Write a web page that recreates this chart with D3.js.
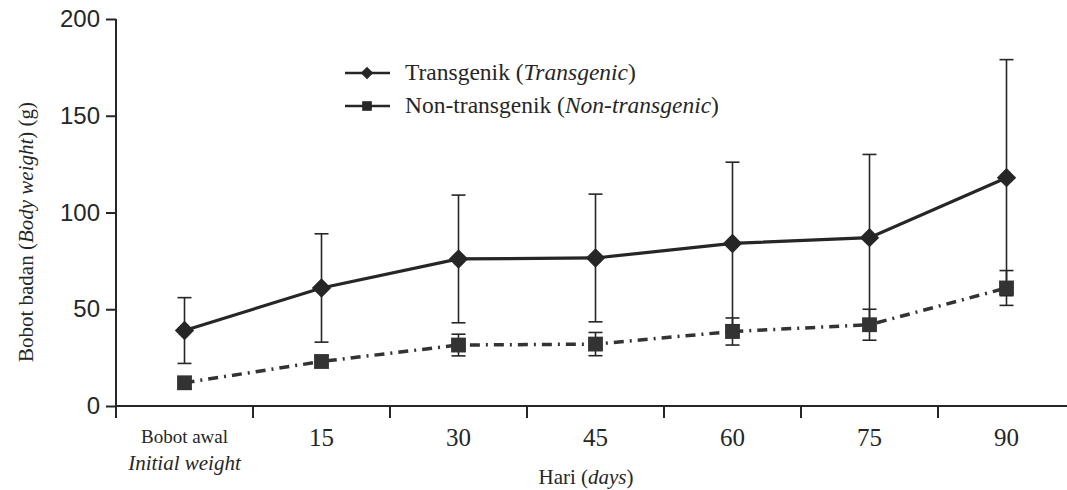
<!DOCTYPE html>
<html>
<head>
<meta charset="utf-8">
<script src="https://cdn.jsdelivr.net/npm/d3@7"></script>
<style>
  body { margin: 0; background: #fff; }
  svg { display: block; font-family: "Liberation Serif", serif; }
</style>
</head>
<body>
<svg id="chart" width="1067" height="490"></svg>
<script>
// data
const categories = ['awal', '15', '30', '45', '60', '75', '90'];
const tickLabels = ['15', '30', '45', '60', '75', '90'];
const transMean = [39, 61, 76, 76.5, 84, 87, 118];
const transErr = [17, 28, 33, 33, 42, 43, 61];
const nonMean = [12, 23, 31.5, 32, 38.5, 42, 61];
const nonErr = [3, 3, 5.6, 6, 7, 8, 9];
const yTicks = [0, 50, 100, 150, 200];

const svg = d3.select('#chart');
const ink = '#262626';

const x = d3.scaleBand().domain(categories).range([116, 1075]).padding(0);
const y = d3.scaleLinear().domain([0, 200]).range([406, 19]);
const cx = (c) => x(c) + x.bandwidth() / 2;

// y axis
const yAxis = svg.append('g')
  .attr('transform', 'translate(116,0)')
  .call(d3.axisLeft(y).tickValues(yTicks).tickSize(10).tickPadding(6));
yAxis.select('.domain').remove();
yAxis.selectAll('line').attr('stroke', ink).attr('stroke-width', 2);
yAxis.selectAll('text').attr('font-size', 24).attr('fill', ink);
svg.append('line')
  .attr('x1', 116).attr('x2', 116)
  .attr('y1', y(200)).attr('y2', y(0) + 12)
  .attr('stroke', ink).attr('stroke-width', 2);

// x axis
svg.append('line')
  .attr('x1', 116).attr('x2', 1067)
  .attr('y1', y(0)).attr('y2', y(0))
  .attr('stroke', ink).attr('stroke-width', 2);
svg.append('g').selectAll('line')
  .data(categories.slice(1))
  .enter().append('line')
  .attr('x1', (d) => x(d)).attr('x2', (d) => x(d))
  .attr('y1', y(0)).attr('y2', y(0) + 12)
  .attr('stroke', ink).attr('stroke-width', 2);
svg.append('g').selectAll('text')
  .data(tickLabels)
  .enter().append('text')
  .attr('x', (d) => cx(d)).attr('y', 446)
  .attr('text-anchor', 'middle')
  .attr('font-size', 25).attr('fill', ink)
  .text((d) => d);
svg.append('text')
  .attr('x', cx('awal')).attr('y', 443)
  .attr('text-anchor', 'middle').attr('font-size', 19).attr('fill', ink)
  .text('Bobot awal');
svg.append('text')
  .attr('x', cx('awal')).attr('y', 470)
  .attr('text-anchor', 'middle').attr('font-size', 21).attr('fill', ink)
  .attr('font-style', 'italic')
  .text('Initial weight');

// axis titles
const xt = svg.append('text')
  .attr('x', 586).attr('y', 484)
  .attr('text-anchor', 'middle').attr('font-size', 21).attr('fill', ink);
xt.append('tspan').text('Hari (');
xt.append('tspan').attr('font-style', 'italic').text('days');
xt.append('tspan').text(')');

const yt = svg.append('text')
  .attr('transform', 'translate(33,232) rotate(-90)')
  .attr('text-anchor', 'middle').attr('font-size', 21).attr('fill', ink);
yt.append('tspan').text('Bobot badan (');
yt.append('tspan').attr('font-style', 'italic').text('Body weight');
yt.append('tspan').text(') (g)');

// error bars
function errorBars(means, errs, cap) {
  const g = svg.append('g').attr('stroke', ink).attr('stroke-width', 1.6);
  categories.forEach((c, i) => {
    const top = y(means[i] + errs[i]);
    const bot = y(means[i] - errs[i]);
    g.append('line').attr('x1', cx(c)).attr('x2', cx(c)).attr('y1', top).attr('y2', bot);
    g.append('line').attr('x1', cx(c) - cap).attr('x2', cx(c) + cap).attr('y1', top).attr('y2', top);
    g.append('line').attr('x1', cx(c) - cap).attr('x2', cx(c) + cap).attr('y1', bot).attr('y2', bot);
  });
}
errorBars(transMean, transErr, 7);
errorBars(nonMean, nonErr, 7);

const line = (means) => d3.line()
  .x((d, i) => cx(categories[i]))
  .y((d) => y(d))(means);

svg.append('path')
  .attr('d', line(nonMean))
  .attr('fill', 'none').attr('stroke', '#333')
  .attr('stroke-width', 3.5)
  .attr('stroke-dasharray', '10,6,2,6');
svg.append('path')
  .attr('d', line(transMean))
  .attr('fill', 'none').attr('stroke', ink)
  .attr('stroke-width', 3.2);

const diamond = d3.symbol().type(d3.symbolDiamond2).size(240);
const square = d3.symbol().type(d3.symbolSquare).size(220);

svg.append('g').selectAll('path')
  .data(nonMean).enter().append('path')
  .attr('d', square)
  .attr('transform', (d, i) => `translate(${cx(categories[i])},${y(d)})`)
  .attr('fill', '#333');
svg.append('g').selectAll('path')
  .data(transMean).enter().append('path')
  .attr('d', diamond)
  .attr('transform', (d, i) => `translate(${cx(categories[i])},${y(d)})`)
  .attr('fill', ink);

// legend
const legend = [
  { plain: 'Transgenik (', it: 'Transgenic', sym: diamond },
  { plain: 'Non-transgenik (', it: 'Non-transgenic', sym: square }
];
legend.forEach((l, i) => {
  const ly = 73 + i * 33;
  svg.append('line')
    .attr('x1', 345).attr('x2', 390).attr('y1', ly).attr('y2', ly)
    .attr('stroke', ink).attr('stroke-width', 2.5);
  svg.append('path')
    .attr('d', l.sym)
    .attr('transform', `translate(367,${ly}) scale(0.65)`)
    .attr('fill', ink);
  const t = svg.append('text')
    .attr('x', 405).attr('y', ly + 7)
    .attr('font-size', 23.5).attr('fill', ink);
  t.append('tspan').text(l.plain);
  t.append('tspan').attr('font-style', 'italic').text(l.it);
  t.append('tspan').text(')');
});
</script>
</body>
</html>
